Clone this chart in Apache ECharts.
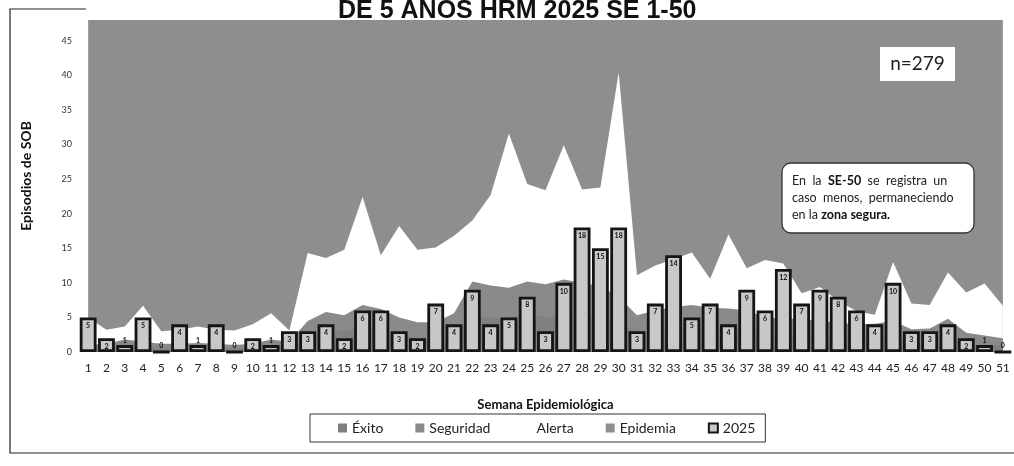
<!DOCTYPE html>
<html>
<head>
<meta charset="utf-8">
<script src="https://cdn.jsdelivr.net/npm/echarts@6/dist/echarts.min.js"></script>
<style>
  html, body { margin: 0; padding: 0; background: #fff; }
  #canal { width: 1014px; height: 466px; }
</style>
</head>
<body>
<div id="canal"></div>
<script>
  // semanas epidemiológicas
  var semanas = ['1','2','3','4','5','6','7','8','9','10','11','12','13','14','15','16','17','18','19','20',
    '21','22','23','24','25','26','27','28','29','30','31','32','33','34','35','36','37','38','39','40',
    '41','42','43','44','45','46','47','48','49','50','51'];

  // casos 2025 (n=279)
  var casos2025 = [5,2,1,5,0,4,1,4,0,2, 1,3,3,4,2,6,6,3,2,7, 4,9,4,5,8,3,10,18,15,18,
    3,7,14,5,7,4,9,6,12,7, 9,8,6,4,10,3,3,4,2,1, 0];

  // limites del canal endemico (techo de cada zona)
  var exito = [0.5,0.5,1,0.5,0.5,0.5,0.5,0.5,0.5,0.5, 1,0.5,2,3,3,3.5,3,2.5,2,2,
    3,5,5,5,5.5,5,5.5,5,5,4, 3,3,3.5,3.5,3.5,3,3,2.5,2.5,2.5, 2,2,2,2,2,1.5,1.5,2,1,1, 1];
  var seguridad = [1,1.2,1.8,1.5,1.2,1.2,1.3,1.2,1,1.2, 1.8,1.5,4.5,5.8,5.3,6.8,6.2,5,4.3,4.3,
    5.6,10.2,9.6,9.3,10.2,9.8,10.5,10,9.5,8, 5.3,6,6.5,6.8,6.4,6.3,6,5,4.8,4.8,
    4.5,4.2,4,4.1,4.5,3.3,3.4,4.8,2.8,2.4, 2];
  var alerta = [5,3.2,3.7,6.7,3,3.2,3.7,3.2,3.1,4, 5.6,3.1,14.3,13.6,14.8,22.4,14,18.2,14.8,15.1,
    16.8,19,22.7,31.6,24.3,23.4,29.9,23.5,23.8,40.4, 11.1,12.5,13.4,14.4,10.6,17,12.1,13.3,12.8,8.5,
    9.4,7.4,5.9,5.4,13,7,6.8,11.5,8.6,9.9, 6.7];
  var epidemia = [48,48,48,48,48,48,48,48,48,48, 48,48,48,48,48,48,48,48,48,48,
    48,48,48,48,48,48,48,48,48,48, 48,48,48,48,48,48,48,48,48,48,
    48,48,48,48,48,48,48,48,48,48, 48];

  var fuente = 'Lato, "Noto Sans", sans-serif';

  function zona(nombre, datos, color, z) {
    return {
      name: nombre,
      type: 'line',
      data: datos,
      z: z,
      symbol: 'none',
      silent: true,
      lineStyle: { width: 0 },
      itemStyle: { color: color },
      areaStyle: { color: color, opacity: 1 }
    };
  }

  var barras = casos2025.map(function (v) {
    return {
      value: v,
      label: v <= 1 ? { position: 'top', distance: 1 } : { position: 'insideTop', distance: 5 }
    };
  });

  var chart = echarts.init(document.getElementById('canal'));
  chart.setOption({
    animation: false,
    textStyle: { fontFamily: fuente },
    title: {
      text: 'DE 5 AÑOS HRM 2025 SE 1-50',
      left: 338,
      top: -1,
      padding: 0,
      z: 20,
      textStyle: { fontFamily: '"Liberation Sans", Arial, sans-serif', fontSize: 25, fontWeight: 'bold', color: '#111' }
    },
    grid: { left: 79, right: 2, top: 20, bottom: 114, containLabel: false },
    legend: {
      data: ['Éxito', 'Seguridad', 'Alerta', 'Epidemia', '2025'],
      left: 310,
      top: 414,
      padding: [7, 10, 7, 28],
      itemGap: 32,
      itemWidth: 9,
      itemHeight: 9,
      icon: 'rect',
      borderColor: '#333',
      borderWidth: 1,
      textStyle: { fontFamily: fuente, fontSize: 14, color: '#222' }
    },
    xAxis: {
      type: 'category',
      data: semanas,
      boundaryGap: true,
      name: 'Semana Epidemiológica',
      nameLocation: 'middle',
      nameGap: 46,
      nameTextStyle: { fontFamily: fuente, fontSize: 13, fontWeight: 'bold', color: '#111' },
      axisLine: { show: false },
      axisTick: { show: false },
      axisLabel: { fontSize: 12, color: '#222', margin: 10, interval: 0 }
    },
    yAxis: {
      type: 'value',
      min: 0,
      max: 48,
      interval: 5,
      name: 'Episodios de SOB',
      nameLocation: 'middle',
      nameRotate: 90,
      nameGap: 46,
      nameTextStyle: { fontFamily: fuente, fontSize: 14, fontWeight: 'bold', color: '#111', padding: [0, 0, 0, 20] },
      axisLine: { show: false },
      axisTick: { show: false },
      splitLine: { show: false },
      axisLabel: {
        fontSize: 9,
        color: '#333',
        margin: 7,
        formatter: function (v) { return v % 5 === 0 ? v : ''; }
      }
    },
    series: [
      zona('Epidemia', epidemia, '#8e8e8e', 1),
      zona('Alerta', alerta, '#ffffff', 2),
      zona('Seguridad', seguridad, '#8a8a8a', 3),
      zona('Éxito', exito, '#808080', 4),
      {
        name: '2025',
        type: 'bar',
        z: 10,
        data: barras,
        barCategoryGap: '8%',
        itemStyle: { color: '#c8c8c8', borderColor: '#151515', borderWidth: 2.8 },
        label: { show: true, fontSize: 7, fontWeight: 'bold', color: '#111' }
      }
    ],
    graphic: [
      {
        type: 'polyline',
        silent: true,
        z: -10,
        shape: { points: [[86, 9], [10, 9], [10, 453], [1014, 453]] },
        style: { fill: 'none', stroke: '#222', lineWidth: 1.2 }
      },
      {
        type: 'rect',
        z: 100,
        shape: { x: 880, y: 47, width: 75, height: 34 },
        style: { fill: '#fff' }
      },
      {
        type: 'text',
        z: 101,
        x: 917.5, y: 64,
        style: { text: 'n=279', fontFamily: fuente, fontSize: 19, fill: '#222', align: 'center', verticalAlign: 'middle' }
      },
      {
        type: 'rect',
        z: 100,
        shape: { x: 782, y: 163, width: 192, height: 70, r: 9 },
        style: { fill: '#fff', stroke: '#333', lineWidth: 1.3 }
      },
      {
        type: 'text',
        z: 101,
        x: 792, y: 172,
        style: {
          text: 'En  la  {b|SE-50}  se  registra  un\ncaso  menos,  permaneciendo\nen la {b|zona segura.}',
          fontFamily: fuente,
          fontSize: 12.5,
          lineHeight: 17,
          fill: '#222',
          rich: { b: { fontWeight: 'bold', fontFamily: fuente, fontSize: 12.5, fill: '#111' } }
        }
      }
    ]
  });
</script>
</body>
</html>
